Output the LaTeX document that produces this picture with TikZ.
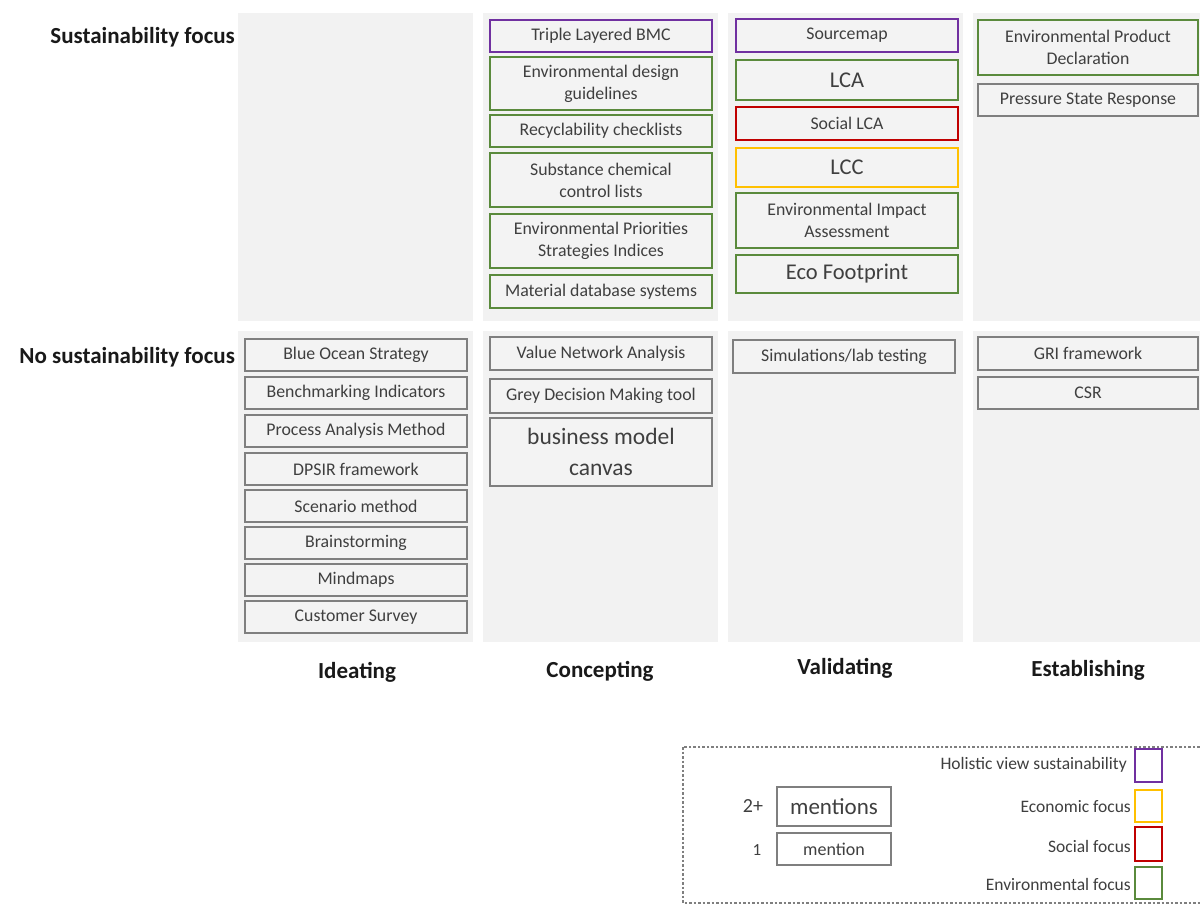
\documentclass[tikz,border=0pt]{standalone}
\usepackage{fontspec}
\setmainfont{Carlito}
\definecolor{panelgrey}{HTML}{F2F2F2}
\definecolor{boxfill}{HTML}{F3F3F3}
\definecolor{boxgrey}{HTML}{7F7F7F}
\definecolor{txt}{HTML}{3F3F3F}
\definecolor{holistic}{HTML}{7030A0}
\definecolor{enviro}{HTML}{5A8A3C}
\definecolor{social}{HTML}{C00000}
\definecolor{econ}{HTML}{FFC000}
\begin{document}
\begin{tikzpicture}[x=1pt,y=-1pt,
  panel/.style={fill=panelgrey, draw=none},
  tool/.style={draw=boxgrey, line width=1.8pt, fill=boxfill, text=txt, align=center,
    inner sep=2pt, font=\fontsize{17.8}{22}\selectfont},
  big/.style={font=\fontsize{22.5}{28}\selectfont},
  sz/.style 2 args={minimum width=#1pt, minimum height=#2pt},
  hol/.style={draw=holistic},
  env/.style={draw=enviro},
  soc/.style={draw=social},
  eco/.style={draw=econ},
  rowlab/.style={font=\bfseries\fontsize{23}{27}\selectfont, text=black!90, inner sep=0pt},
  collab/.style={font=\bfseries\fontsize{23}{27}\selectfont, text=black!90, inner sep=0pt},
  legtext/.style={font=\fontsize{17.5}{21}\selectfont, text=txt, inner sep=0pt},
  swatch/.style={draw, line width=1.8pt, fill=white, minimum width=27pt, minimum height=33pt, inner sep=0pt},
  legbox/.style={draw=boxgrey, line width=1.5pt, fill=white, text=txt, minimum width=114pt, inner sep=0pt},
  legendline/.style={draw=boxgrey, line width=1.1pt, dash pattern=on 2.5pt off 2pt}
]
\useasboundingbox (0,0) rectangle (1200,907);
\fill[white] (0,0) rectangle (1200,907);

% background panels: two rows by four phases
\foreach \xa/\xb in {238/473, 483/718, 728/963, 973/1200}{
  \fill[panelgrey] (\xa,13) rectangle (\xb,321);
  \fill[panelgrey] (\xa,331) rectangle (\xb,642);
}

% row labels
\node[rowlab, anchor=east] (sf) at (235,37) {Sustainability focus};
\node[rowlab, anchor=east] (nsf) at (235,357) {No sustainability focus};

% phase labels
\node[collab] (ideat) at (357,672) {Ideating};
\node[collab] (concp) at (600,671) {Concepting};
\node[collab] (valid) at (845,668) {Validating};
\node[collab] (estab) at (1088,670) {Establishing};

% Concepting, sustainability focus
\node[tool, hol, sz={222}{32}] (tbmc) at (601,36) {Triple Layered BMC};
\node[tool, env, sz={222}{53}] (edg) at (601,83.5) {Environmental design\\guidelines};
\node[tool, env, sz={222}{32}] (rec) at (601,131) {Recyclability checklists};
\node[tool, env, sz={222}{54}] (scc) at (601,180) {Substance chemical\\control lists};
\node[tool, env, sz={222}{54}] (eps) at (601,241) {Environmental Priorities\\Strategies Indices};
\node[tool, env, sz={222}{33}] (mds) at (601,291.5) {Material database systems};

% Validating, sustainability focus
\node[tool, hol, sz={222}{33}] (src) at (847,35.5) {Sourcemap};
\node[tool, env, big, sz={222}{40}] (lca) at (847,80) {LCA};
\node[tool, soc, sz={222}{33}] (slca) at (847,123.5) {Social LCA};
\node[tool, eco, big, sz={222}{39}] (lcc) at (847,167.5) {LCC};
\node[tool, env, sz={222}{55}] (eia) at (847,220.5) {Environmental Impact\\Assessment};
\node[tool, env, big, sz={222}{38}] (ecof) at (847,274) {Eco Footprint};

% Establishing, sustainability focus
\node[tool, env, sz={220}{55}] (epd) at (1088,47.5) {Environmental Product\\Declaration};
\node[tool, sz={220}{32}] (psr) at (1088,100) {Pressure State Response};

% Ideating, no sustainability focus
\node[tool, sz={222}{32}] (bos) at (356,355) {Blue Ocean Strategy};
\node[tool, sz={222}{32}] (bmi) at (356,393) {Benchmarking Indicators};
\node[tool, sz={222}{32}] (pam) at (356,431) {Process Analysis Method};
\node[tool, sz={222}{32}] (dps) at (356,469) {DPSIR framework};
\node[tool, sz={222}{32}] (scm) at (356,506) {Scenario method};
\node[tool, sz={222}{32}] (brs) at (356,543) {Brainstorming};
\node[tool, sz={222}{32}] (mmp) at (356,580) {Mindmaps};
\node[tool, sz={222}{32}] (cus) at (356,617) {Customer Survey};

% Concepting, no sustainability focus
\node[tool, sz={222}{33}] (vna) at (601,353.5) {Value Network Analysis};
\node[tool, sz={222}{34}] (gdm) at (601,396) {Grey Decision Making tool};
\node[tool, sz={222}{68}, font=\fontsize{23.5}{31}\selectfont] (bmcv) at (601,452) {business model\\canvas};

% Validating, no sustainability focus
\node[tool, sz={222}{33}] (sim) at (844,356.5) {Simulations/lab testing};

% Establishing, no sustainability focus
\node[tool, sz={220}{33}] (gri) at (1088,353.5) {GRI framework};
\node[tool, sz={220}{32}] (csr) at (1088,393) {CSR};

% legend
\draw[legendline] (683,747) rectangle (1215,903);
\node[legbox, minimum height=39pt, font=\fontsize{23}{27}\selectfont] (many) at (834,806.5) {mentions};
\node[legbox, minimum height=32pt, font=\fontsize{18}{22}\selectfont] (one) at (834,849) {mention};
\node[text=txt, font=\fontsize{20}{24}\selectfont, inner sep=0pt] (twoplus) at (753,806) {2+};
\node[text=txt, font=\fontsize{17}{20}\selectfont, inner sep=0pt] (onel) at (757,850) {1};

\node[swatch, draw=holistic] (swh) at (1148.5,765.5) {};
\node[swatch, draw=econ, minimum height=32pt] (swe) at (1148.5,806) {};
\node[swatch, draw=social, minimum height=34pt] (sws) at (1148.5,844) {};
\node[swatch, draw=enviro, minimum height=32pt] (swv) at (1148.5,883) {};
\node[legtext, anchor=east] (lh) at (1127,765) {Holistic view sustainability};
\node[legtext, anchor=east] (le) at (1131,807) {Economic focus};
\node[legtext, anchor=east] (ls) at (1131,846) {Social focus};
\node[legtext, anchor=east] (lv) at (1131,884) {Environmental focus};
\end{tikzpicture}
\end{document}
